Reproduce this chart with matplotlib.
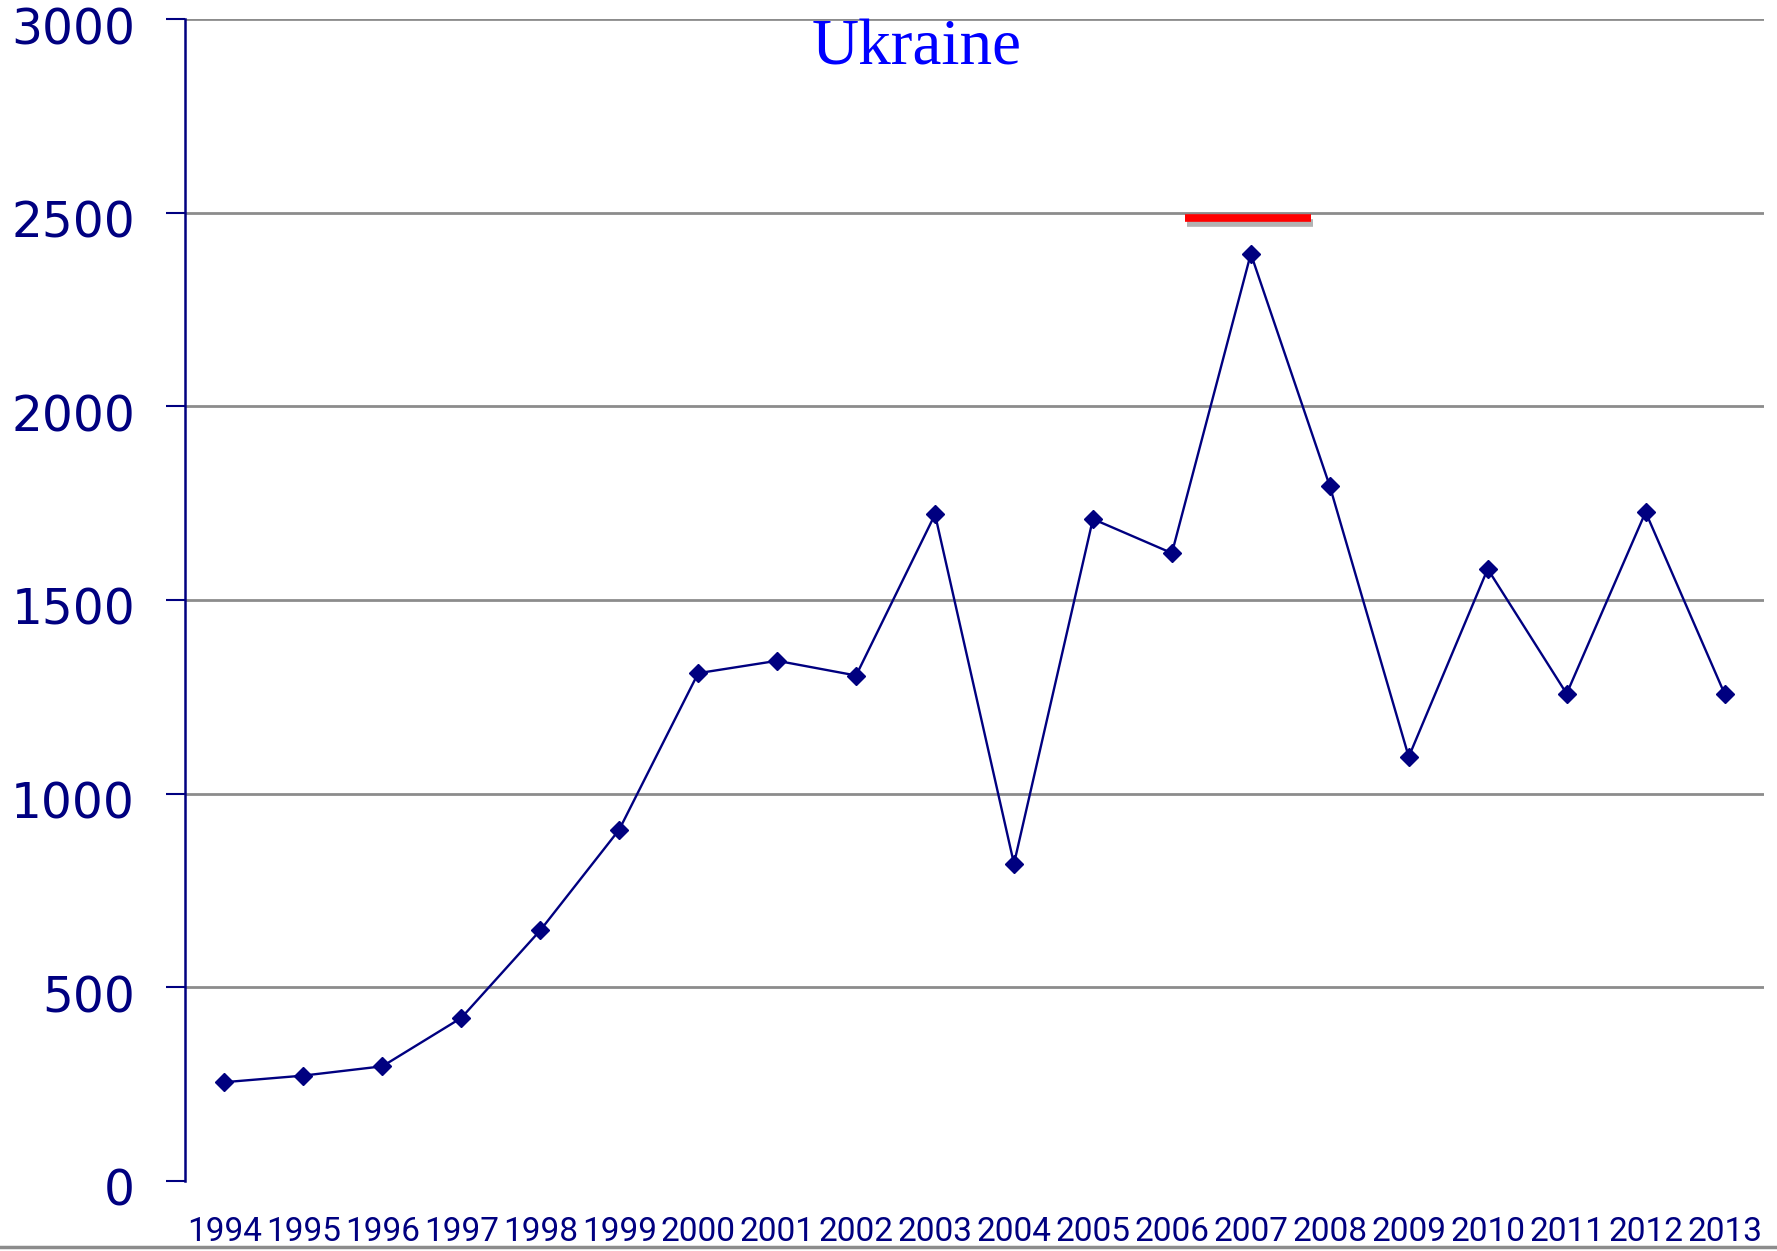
import numpy as np
import matplotlib
matplotlib.use("Agg")
import matplotlib.pyplot as plt
import matplotlib.patheffects as pe
import matplotlib.transforms as mtransforms
from matplotlib.lines import Line2D

years = [1994, 1995, 1996, 1997, 1998, 1999, 2000, 2001, 2002, 2003,
         2004, 2005, 2006, 2007, 2008, 2009, 2010, 2011, 2012, 2013]
values = [255, 272, 296, 421, 647, 907, 1311, 1343, 1305, 1721,
          819, 1709, 1621, 2394, 1794, 1095, 1580, 1258, 1727, 1258]
yticks = [0, 500, 1000, 1500, 2000, 2500, 3000]
title = "Ukraine"
# red marker bar drawn above the 2007 peak (x in category units, y in data)
mark_x = [12.16, 13.76]
mark_y = [2485, 2485]

navy = "#000080"

fig = plt.figure(figsize=(17.77, 12.51), dpi=100)
ax = fig.add_axes([0.1041, 0.056, 0.8886, 0.9288])

x = np.arange(len(years))
ax.plot(x, values, color=navy, lw=1.7, marker="D", ms=9, mfc=navy, mec=navy, zorder=3)

ax.plot(mark_x, mark_y, color="#ff0000", lw=5.5, solid_capstyle="butt", zorder=4,
        path_effects=[pe.SimpleLineShadow(offset=(1.5, -3), alpha=0.3), pe.Normal()])

ax.set_xlim(-0.5, len(years) - 0.5)
ax.set_ylim(0, 3000)
ax.set_yticks(yticks)
ax.set_yticklabels([str(v) for v in yticks], fontsize=35, color=navy, family="DejaVu Sans")
ax.set_xticks(x)
ax.set_xticklabels([str(y) for y in years], fontsize=24,
                   color=navy, family=["Roboto", "DejaVu Sans"])

ax.tick_params(axis="y", direction="out", length=14, width=1.5, color=navy, pad=22)
ax.tick_params(axis="x", length=0, pad=25)

# y labels sit a little below their ticks in the original
shift = mtransforms.ScaledTranslation(0, -6 / 100, fig.dpi_scale_trans)
for lbl in ax.get_yticklabels():
    lbl.set_transform(lbl.get_transform() + shift)

for yv in yticks[1:]:
    ax.axhline(yv, color="#8c8c8c", lw=2, zorder=1)

for s in ["top", "right", "bottom"]:
    ax.spines[s].set_visible(False)
ax.spines["left"].set_color(navy)
ax.spines["left"].set_linewidth(1.8)

ax.text(0.4636, 1.0, title, transform=ax.transAxes, ha="center", va="top",
        fontsize=47, color="#0000ff", family="Liberation Serif")

fig.add_artist(Line2D([0, 1], [0.003, 0.003], transform=fig.transFigure,
                      color="#8c8c8c", lw=2.5))

fig.savefig("out.png", dpi=100)
